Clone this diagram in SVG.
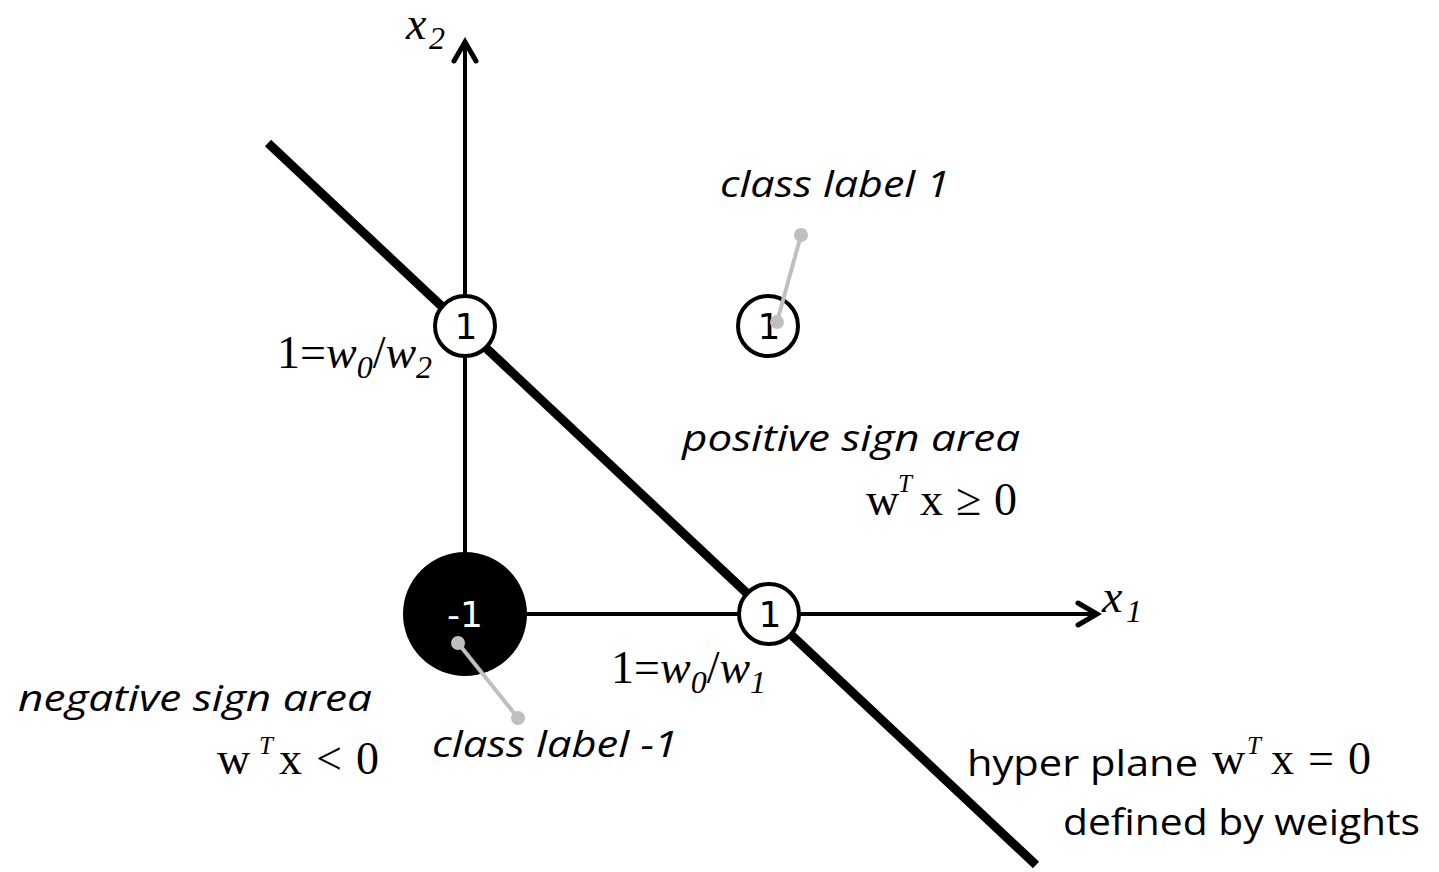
<svg xmlns="http://www.w3.org/2000/svg" width="1439" height="872" viewBox="0 0 1439 872">
<style>
.axis{stroke:#000;stroke-width:4;fill:none}
.arrow{stroke:#000;stroke-width:5;fill:none;stroke-linecap:round;stroke-linejoin:miter}
.plane{stroke:#000;stroke-width:9;fill:none}
.node{fill:#fff;stroke:#000;stroke-width:4}
.ptr{stroke:#bfbfbf;stroke-width:4;fill:none}
.dot{fill:#bfbfbf}
.sans{font-family:"Open Sans",Lato,"Liberation Sans",sans-serif;font-size:36px;fill:#000}
.it{font-style:italic}
.num{font-family:"DejaVu Sans",Lato,sans-serif;font-size:36px;text-anchor:middle}
.math{font-family:"Liberation Serif","Times New Roman",serif;font-size:46px;fill:#000}
.sub{font-size:32px}
.sup{font-size:25px;font-style:italic}
</style>
<g id="connectors">
<line class="axis" x1="465" y1="614" x2="465" y2="42"/>
<polyline class="arrow" points="454,61 465,42 476,61"/>
<line class="axis" x1="465" y1="614" x2="1096" y2="614"/>
<polyline class="arrow" points="1078,603 1097,614 1078,625"/>
<line class="plane" x1="268" y1="143" x2="1036" y2="865"/>
</g>
<g id="node-neg">
<circle cx="465" cy="614" r="62" fill="#000"/>
<text class="num" x="465" y="627" fill="#fff">-1</text>
</g>
<g id="node-x2">
<circle class="node" cx="465" cy="326" r="30"/>
<text class="num" x="466" y="339">1</text>
</g>
<g id="node-x1">
<circle class="node" cx="769" cy="614" r="30"/>
<text class="num" x="770" y="627">1</text>
</g>
<g id="node-pos">
<circle class="node" cx="768" cy="326" r="30"/>
<text class="num" x="769" y="339">1</text>
</g>
<g id="pointers">
<line class="ptr" x1="801" y1="235" x2="777" y2="322"/>
<circle class="dot" cx="801" cy="235" r="7"/>
<circle class="dot" cx="777" cy="322" r="7"/>
<line class="ptr" x1="458" y1="643" x2="518" y2="718"/>
<circle class="dot" cx="458" cy="643" r="7"/>
<circle class="dot" cx="518" cy="718" r="7"/>
</g>
<g id="labels">
<text class="math" x="406" y="39" font-style="italic" font-size="42">x<tspan class="sub" x="429" y="49">2</tspan></text>
<text class="math" x="1102" y="612" font-style="italic" font-size="44">x<tspan class="sub" x="1126" y="622">1</tspan></text>
<text class="math" x="277" y="368">1=<tspan font-style="italic">w</tspan><tspan class="sub" font-style="italic" y="378">0</tspan><tspan y="368">/</tspan><tspan font-style="italic">w</tspan><tspan class="sub" font-style="italic" y="378">2</tspan></text>
<text class="math" x="611" y="683">1=<tspan font-style="italic">w</tspan><tspan class="sub" font-style="italic" y="693">0</tspan><tspan y="683">/</tspan><tspan font-style="italic">w</tspan><tspan class="sub" font-style="italic" y="693">1</tspan></text>
<text class="sans it" x="720" y="197" textLength="230" lengthAdjust="spacingAndGlyphs">class label 1</text>
<text class="sans it" x="682" y="451" textLength="338" lengthAdjust="spacingAndGlyphs">positive sign area</text>
<text class="math" y="515"><tspan x="866">w</tspan><tspan class="sup" x="898" y="492">T</tspan><tspan x="920" y="515">x</tspan><tspan x="956">≥</tspan><tspan x="994">0</tspan></text>
<text class="sans it" x="18" y="711" textLength="354" lengthAdjust="spacingAndGlyphs">negative sign area</text>
<text class="math" y="774"><tspan x="217">w</tspan><tspan class="sup" x="259" y="754">T</tspan><tspan x="279" y="774">x</tspan><tspan x="316">&lt;</tspan><tspan x="356">0</tspan></text>
<text class="sans it" x="432" y="757" textLength="246" lengthAdjust="spacingAndGlyphs">class label -1</text>
<text class="sans" x="967" y="776" textLength="231" lengthAdjust="spacingAndGlyphs">hyper plane</text>
<text class="math" y="774"><tspan x="1212">w</tspan><tspan class="sup" x="1247" y="754">T</tspan><tspan x="1271" y="774">x</tspan><tspan x="1308">=</tspan><tspan x="1348">0</tspan></text>
<text class="sans" x="1063" y="835" textLength="357" lengthAdjust="spacingAndGlyphs">defined by weights</text>
</g>
</svg>
